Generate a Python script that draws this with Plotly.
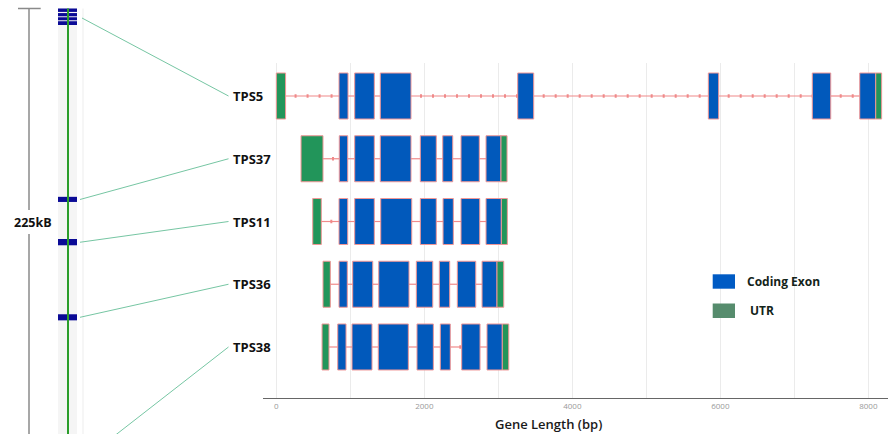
import plotly.graph_objects as go

# ---------------- data ----------------
genes = ["TPS5", "TPS37", "TPS11", "TPS36", "TPS38"]

tps5_start = [0, 847, 1059, 1405, 3262, 5838, 7243, 7884, 8100]
tps5_end = [125, 969, 1324, 1820, 3478, 5978, 7492, 8100, 8180]
tps5_kind = ["UTR", "CDS", "CDS", "CDS", "CDS", "CDS", "CDS", "CDS", "UTR"]

tps37_start = [334, 851, 1059, 1405, 1946, 2249, 2496, 2834, 3036]
tps37_end = [631, 965, 1324, 1820, 2162, 2384, 2743, 3036, 3118]
tps37_kind = ["UTR", "CDS", "CDS", "CDS", "CDS", "CDS", "CDS", "CDS", "UTR"]

tps11_start = [492, 847, 1059, 1411, 1946, 2253, 2496, 2834, 3041]
tps11_end = [608, 965, 1324, 1830, 2162, 2392, 2749, 3041, 3122]
tps11_kind = ["UTR", "CDS", "CDS", "CDS", "CDS", "CDS", "CDS", "CDS", "UTR"]

tps36_start = [631, 847, 1032, 1384, 1892, 2203, 2446, 2780, 2982]
tps36_end = [730, 959, 1303, 1793, 2114, 2343, 2695, 2982, 3073]
tps36_kind = ["UTR", "CDS", "CDS", "CDS", "CDS", "CDS", "CDS", "CDS", "UTR"]

tps38_start = [618, 830, 1023, 1378, 1901, 2216, 2505, 2847, 3054]
tps38_end = [712, 942, 1293, 1784, 2122, 2351, 2753, 3054, 3141]
tps38_kind = ["UTR", "CDS", "CDS", "CDS", "CDS", "CDS", "CDS", "CDS", "UTR"]

x_tickvals = [0, 1000, 2000, 3000, 4000, 5000, 6000, 7000, 8000]
x_ticktext = ["0", "", "2000", "", "4000", "", "6000", "", "8000"]

# chromosome (positions in kb)
chrom_marker_start_kb = [0.0, 2.4, 4.6, 6.7, 99.1, 121.3, 160.9, 237.6]
chrom_marker_end_kb = [1.8, 4.1, 6.2, 8.7, 101.8, 124.6, 164.1, 240.3]
gene_chrom_kb = [5.0, 100.5, 123.0, 162.5, 239.0]
chrom_length_kb = 240
scale_bar_kb = 225
scale_label = "225kB"

# ---------------- styles ----------------
CDS_COLOR = "#0159bb"
UTR_COLOR = "#22955a"
EDGE_COLOR = "#f09696"
INTRON_COLOR = "#f08a8a"
LEG_CDS = "#005bc4"
LEG_UTR = "#568c6d"
FONT = "Open Sans"
W, H = 888, 434

gene_data = [
    (tps5_start, tps5_end, tps5_kind),
    (tps37_start, tps37_end, tps37_kind),
    (tps11_start, tps11_end, tps11_kind),
    (tps36_start, tps36_end, tps36_kind),
    (tps38_start, tps38_end, tps38_kind),
]

fig = go.Figure()

# introns
ix, iy = [], []
for row, (s, e, k) in enumerate(gene_data):
    for i in range(len(s) - 1):
        if e[i] < s[i + 1]:
            ix += [e[i], s[i + 1], None]
            iy += [row, row, None]
fig.add_trace(go.Scatter(x=ix, y=iy, mode="lines",
                         line=dict(color=INTRON_COLOR, width=1.2),
                         hoverinfo="skip", showlegend=False))
fig.add_trace(go.Scatter(x=ix, y=iy, mode="lines",
                         line=dict(color=INTRON_COLOR, width=3.5, dash="0px,9px,2px,1px"),
                         hoverinfo="skip", showlegend=False))

# exons / UTRs
for kind, color in [("CDS", CDS_COLOR), ("UTR", UTR_COLOR)]:
    bx, bb, by = [], [], []
    for row, (s, e, k) in enumerate(gene_data):
        for a, b, kk in zip(s, e, k):
            if kk == kind:
                bb.append(a)
                bx.append(b - a)
                by.append(row)
    fig.add_trace(go.Bar(orientation="h", x=bx, base=bb, y=by, width=0.733,
                         marker=dict(color=color, line=dict(color=EDGE_COLOR, width=1)),
                         hoverinfo="skip", showlegend=False))

# ---------------- chromosome overlay (x2/y2) ----------------
Y2_RANGE = [223.9, -4.47]
fig.add_trace(go.Scatter(x=[68, 68], y=[0, chrom_length_kb], mode="lines",
                         line=dict(color="#2b9e2b", width=2),
                         xaxis="x2", yaxis="y2", hoverinfo="skip", showlegend=False))
fig.add_trace(go.Bar(x=[67.5] * len(chrom_marker_start_kb),
                     y=[b - a for a, b in zip(chrom_marker_start_kb, chrom_marker_end_kb)],
                     base=chrom_marker_start_kb, width=19,
                     marker=dict(color="#0b0b96", line=dict(width=0)),
                     xaxis="x2", yaxis="y2", hoverinfo="skip", showlegend=False))

# scale bar
gap_lo, gap_hi = scale_bar_kb / 2 - 6.5, scale_bar_kb / 2 + 6.2
fig.add_trace(go.Scatter(x=[29, 29, None, 29, 29, None, 18, 40.7],
                         y=[0, gap_lo, None, gap_hi, scale_bar_kb, None, 0, 0],
                         mode="lines", line=dict(color="#8a8a8a", width=1.5),
                         xaxis="x2", yaxis="y2", hoverinfo="skip", showlegend=False))

# gene y-axis geometry
Y_DOM = [(H - 398) / H, (H - 63) / H]
Y_RANGE = [4.813, -0.526]


def row_to_kb(row):
    paper = Y_DOM[0] + (Y_RANGE[0] - row) / (Y_RANGE[0] - Y_RANGE[1]) * (Y_DOM[1] - Y_DOM[0])
    return Y2_RANGE[0] + paper * (Y2_RANGE[1] - Y2_RANGE[0])


cx, cy = [], []
for row, kb in enumerate(gene_chrom_kb):
    cx += [80 if row else 82, 228.5, None]
    cy += [kb, row_to_kb(row), None]
fig.add_trace(go.Scatter(x=cx, y=cy, mode="lines", line=dict(color="#76c6a3", width=1),
                         xaxis="x2", yaxis="y2", hoverinfo="skip", showlegend=False))

shapes = [
    dict(type="rect", xref="x2", yref="y2", x0=58, x1=77, y0=0, y1=chrom_length_kb,
         fillcolor="#f5f5f5", line=dict(width=0), layer="below"),
    dict(type="line", xref="x2", yref="y2", x0=83, x1=83, y0=0, y1=chrom_length_kb,
         line=dict(color="#ededed", width=1), layer="below"),
    # legend swatches
    dict(type="rect", xref="paper", yref="paper", x0=712.7 / W, x1=735 / W,
         y0=1 - 288.7 / H, y1=1 - 274.3 / H, fillcolor=LEG_CDS, line=dict(width=0)),
    dict(type="rect", xref="paper", yref="paper", x0=712.7 / W, x1=735 / W,
         y0=1 - 318 / H, y1=1 - 303.5 / H, fillcolor=LEG_UTR, line=dict(width=0)),
]

annotations = []
for row, g in enumerate(genes):
    annotations.append(dict(text=g, xref="paper", yref="y", x=231 / W, y=row,
                            xanchor="left", yanchor="middle", showarrow=False,
                            font=dict(family=FONT, size=13, color="#111111", weight=700)))
annotations.append(dict(text=scale_label, xref="x2", yref="y2", x=33, y=scale_bar_kb / 2,
                        xanchor="center", yanchor="middle", showarrow=False,
                        font=dict(family=FONT, size=12.5, color="#111111", weight=700)))
annotations.append(dict(text="Coding Exon", xref="paper", yref="paper", x=745 / W,
                        y=1 - 281.7 / H, xanchor="left", yanchor="middle", showarrow=False,
                        font=dict(family=FONT, size=12, color="#13241a", weight=700)))
annotations.append(dict(text="UTR", xref="paper", yref="paper", x=748 / W,
                        y=1 - 310.7 / H, xanchor="left", yanchor="middle", showarrow=False,
                        font=dict(family=FONT, size=12, color="#13241a", weight=700)))
annotations.append(dict(text="Gene Length (bp)", xref="paper", yref="paper", x=548 / W,
                        y=1 - 424 / H, xanchor="center", yanchor="middle", showarrow=False,
                        font=dict(family=FONT, size=13, color="#1a1a1a", weight=600)))

fig.update_layout(
    width=W, height=H, margin=dict(l=0, r=0, t=0, b=0),
    paper_bgcolor="white", plot_bgcolor="rgba(0,0,0,0)",
    barmode="overlay", showlegend=False,
    xaxis=dict(domain=[263 / W, 1], range=[-180, 8266], tickmode="array",
               tickvals=x_tickvals, ticktext=x_ticktext, showgrid=True,
               gridcolor="#ebebeb", gridwidth=1, showline=True, linecolor="#666666",
               linewidth=1.2, zeroline=False, ticks="",
               tickfont=dict(family=FONT, size=8, color="#999999"), anchor="y"),
    yaxis=dict(domain=Y_DOM, range=Y_RANGE, showgrid=False, zeroline=False,
               showticklabels=False, showline=False, anchor="x"),
    xaxis2=dict(domain=[0, 1], range=[0, W], visible=False, anchor="y2"),
    yaxis2=dict(domain=[0, 1], range=Y2_RANGE, visible=False, anchor="x2"),
    shapes=shapes, annotations=annotations,
)

fig.write_html("out.html", config={"displayModeBar": False},
               post_script="document.body.style.margin='0px';document.body.style.overflow='hidden';")
